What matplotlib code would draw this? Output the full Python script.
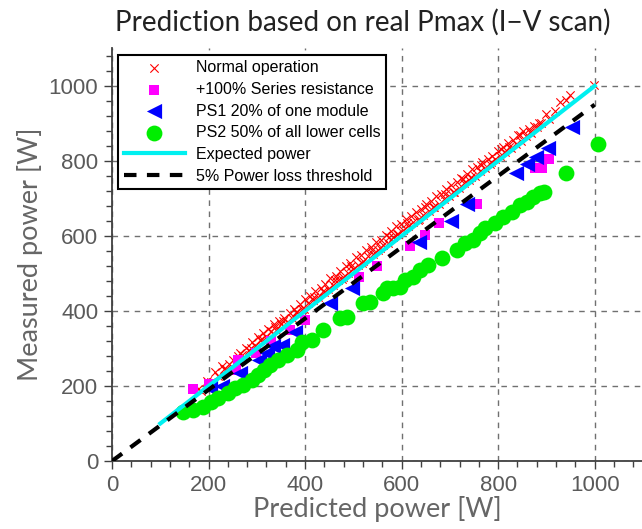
import numpy as np
import matplotlib
matplotlib.use("Agg")
import matplotlib.pyplot as plt
from matplotlib.ticker import MultipleLocator

# Normal operation (red x)
normal_x = [178, 185, 196, 205, 214, 220, 228, 236, 243, 250, 258, 265, 270, 278, 284, 290, 296, 302,
            307, 313, 318, 324, 330, 335, 340, 346, 351, 357, 362, 368, 373, 378, 384, 389, 394, 400,
            405, 410, 416, 421, 426, 432, 437, 442, 447, 452, 458, 463, 468, 473, 479, 484, 489, 494,
            500, 505, 510, 515, 520, 526, 531, 536, 541, 546, 551, 557, 562, 567, 572, 577, 583, 588,
            593, 598, 603, 609, 614, 619, 624, 629, 635, 640, 645, 650, 656, 661, 666, 671, 677, 682,
            687, 692, 698, 703, 708, 714, 719, 724, 730, 735, 740, 746, 751, 756, 762, 767, 772, 778,
            783, 788, 794, 799, 804, 810, 815, 820, 826, 831, 836, 842, 847, 852, 858, 863, 868, 874,
            880, 888, 900, 928, 948, 940, 998,
            232, 262, 287, 311, 338, 355, 381, 398, 419, 440, 461, 477, 496, 517, 538, 556, 574, 591,
            612, 633, 648, 668, 689, 706, 727, 744, 765, 786, 806, 823, 845, 866, 884, 905, 918]
normal_y = [192, 188, 214, 210, 236, 226, 252, 244, 258, 270, 266, 288, 282, 302, 296, 318, 306, 330,
            322, 342, 330, 352, 346, 366, 348, 374, 364, 382, 370, 394, 380, 404, 396, 418, 404, 432,
            420, 440, 428, 452, 436, 462, 452, 472, 458, 488, 470, 494, 482, 506, 490, 520, 502, 528,
            512, 544, 522, 550, 532, 562, 546, 570, 552, 584, 562, 590, 576, 602, 582, 614, 596, 626,
            604, 632, 616, 646, 626, 652, 636, 664, 644, 672, 656, 684, 666, 694, 676, 706, 686, 712,
            698, 724, 706, 736, 718, 744, 728, 754, 740, 764, 748, 778, 760, 784, 772, 796, 780, 806,
            792, 814, 806, 826, 812, 838, 824, 848, 834, 856, 846, 868, 854, 880, 866, 886, 874, 894,
            890, 902, 924, 957, 976, 962, 1002,
            244, 280, 300, 326, 356, 372, 398, 406, 438, 450, 482, 484, 520, 528, 562, 568, 596, 604,
            634, 642, 676, 678, 712, 718, 752, 758, 790, 796, 832, 836, 870, 876, 900, 912, 934]

# +100% series resistance (magenta squares)
rs_x = [168, 201, 257, 261, 298, 330, 368, 400, 511, 548, 617, 648, 677, 756, 876, 890, 905]
rs_y = [191, 205, 243, 269, 288, 320, 349, 375, 491, 520, 572, 603, 635, 685, 780, 781, 804]

# PS1 20% of one module (blue triangles)
ps1_x = [203, 228, 265, 305, 321, 334, 352, 379, 451, 497, 636, 702, 735, 836, 859, 878, 903, 952]
ps1_y = [195, 200, 234, 268, 288, 306, 309, 344, 420, 461, 583, 641, 686, 769, 791, 811, 835, 891]

# PS2 50% of all lower cells (green circles)
ps2_x = [147, 168, 189, 206, 220, 241, 255, 271, 289, 303, 315, 327, 344, 362, 383, 393, 414, 437,
         472, 486, 520, 534, 561, 569, 582, 596, 607, 624, 638, 655, 683, 715, 731, 748, 762, 773,
         793, 810, 828, 845, 859, 872, 886, 894, 940, 1006]
ps2_y = [131, 136, 144, 157, 168, 181, 195, 203, 216, 229, 242, 256, 269, 283, 296, 318, 323, 349,
         381, 384, 421, 424, 447, 461, 461, 464, 483, 491, 509, 523, 541, 563, 581, 589, 608, 621,
         635, 651, 664, 683, 691, 704, 715, 717, 768, 845]

expected_x = [100, 1000]
expected_y = [100, 1000]
threshold_x = [0, 1000]
threshold_y = [0, 950]

fig = plt.figure(figsize=(6.42, 5.29), dpi=100)
ax = fig.add_axes([0.1745, 0.1285, 0.827, 0.78])

gray = '#5a5a5a'
ax.scatter(normal_x, normal_y, marker='x', s=36, c='red', linewidths=0.8,
           label='Normal operation', zorder=3)
ax.scatter(rs_x, rs_y, marker='s', s=60, c='#ff00ff', linewidths=0,
           label='+100% Series resistance', zorder=3)
ax.scatter(ps1_x, ps1_y, marker='<', s=120, c='#0000ff', linewidths=0,
           label='PS1 20% of one module', zorder=3)
ax.scatter(ps2_x, ps2_y, marker='o', s=130, c='#00ee00', linewidths=0,
           label='PS2 50% of all lower cells', zorder=3)
ax.plot(expected_x, expected_y, color='#00f0f0', lw=3, label='Expected power', zorder=4)
ax.plot(threshold_x, threshold_y, color='black', lw=3, ls=(0, (3, 2.5)),
        label='5% Power loss threshold', zorder=4)

ax.set_xlim(0, 1100)
ax.set_ylim(0, 1100)
ax.xaxis.set_major_locator(MultipleLocator(200))
ax.yaxis.set_major_locator(MultipleLocator(200))
ax.xaxis.set_minor_locator(MultipleLocator(40))
ax.yaxis.set_minor_locator(MultipleLocator(40))
ax.grid(True, which='major', color='#707070', ls=(0, (4, 4)), lw=1)
ax.set_axisbelow(True)
for s in ['top', 'right']:
    ax.spines[s].set_visible(False)
for s in ['left', 'bottom']:
    ax.spines[s].set_color('#404040')
    ax.spines[s].set_linewidth(1.3)
ax.tick_params(which='major', direction='out', length=6, width=1, colors='#404040',
               labelcolor=gray, labelsize=16, pad=4)
ax.tick_params(which='minor', direction='out', length=4, width=1, colors='#404040')
for lab in ax.get_xticklabels() + ax.get_yticklabels():
    lab.set_fontfamily('Liberation Sans')

ax.set_xlabel('Predicted power [W]', fontsize=19.5, color='#666666', family='Lato', labelpad=0)
ax.set_ylabel('Measured power [W]', fontsize=19.5, color='#666666', family='Lato', labelpad=4)
fig.text(0.565, 0.957, 'Prediction based on real Pmax (I\u2212V scan)', ha='center', va='center',
         fontsize=20, color='#222222', family='Lato')

leg = ax.legend(loc='upper left', bbox_to_anchor=(0.012, 0.985), prop={'family': 'Liberation Sans', 'size': 11.5},
                frameon=True, fancybox=False, edgecolor='black', framealpha=1,
                borderpad=0.35, labelspacing=0.42, handlelength=3.8, handletextpad=0.7,
                borderaxespad=0)
leg.get_frame().set_linewidth(1.5)

fig.savefig('out.png', dpi=100)
